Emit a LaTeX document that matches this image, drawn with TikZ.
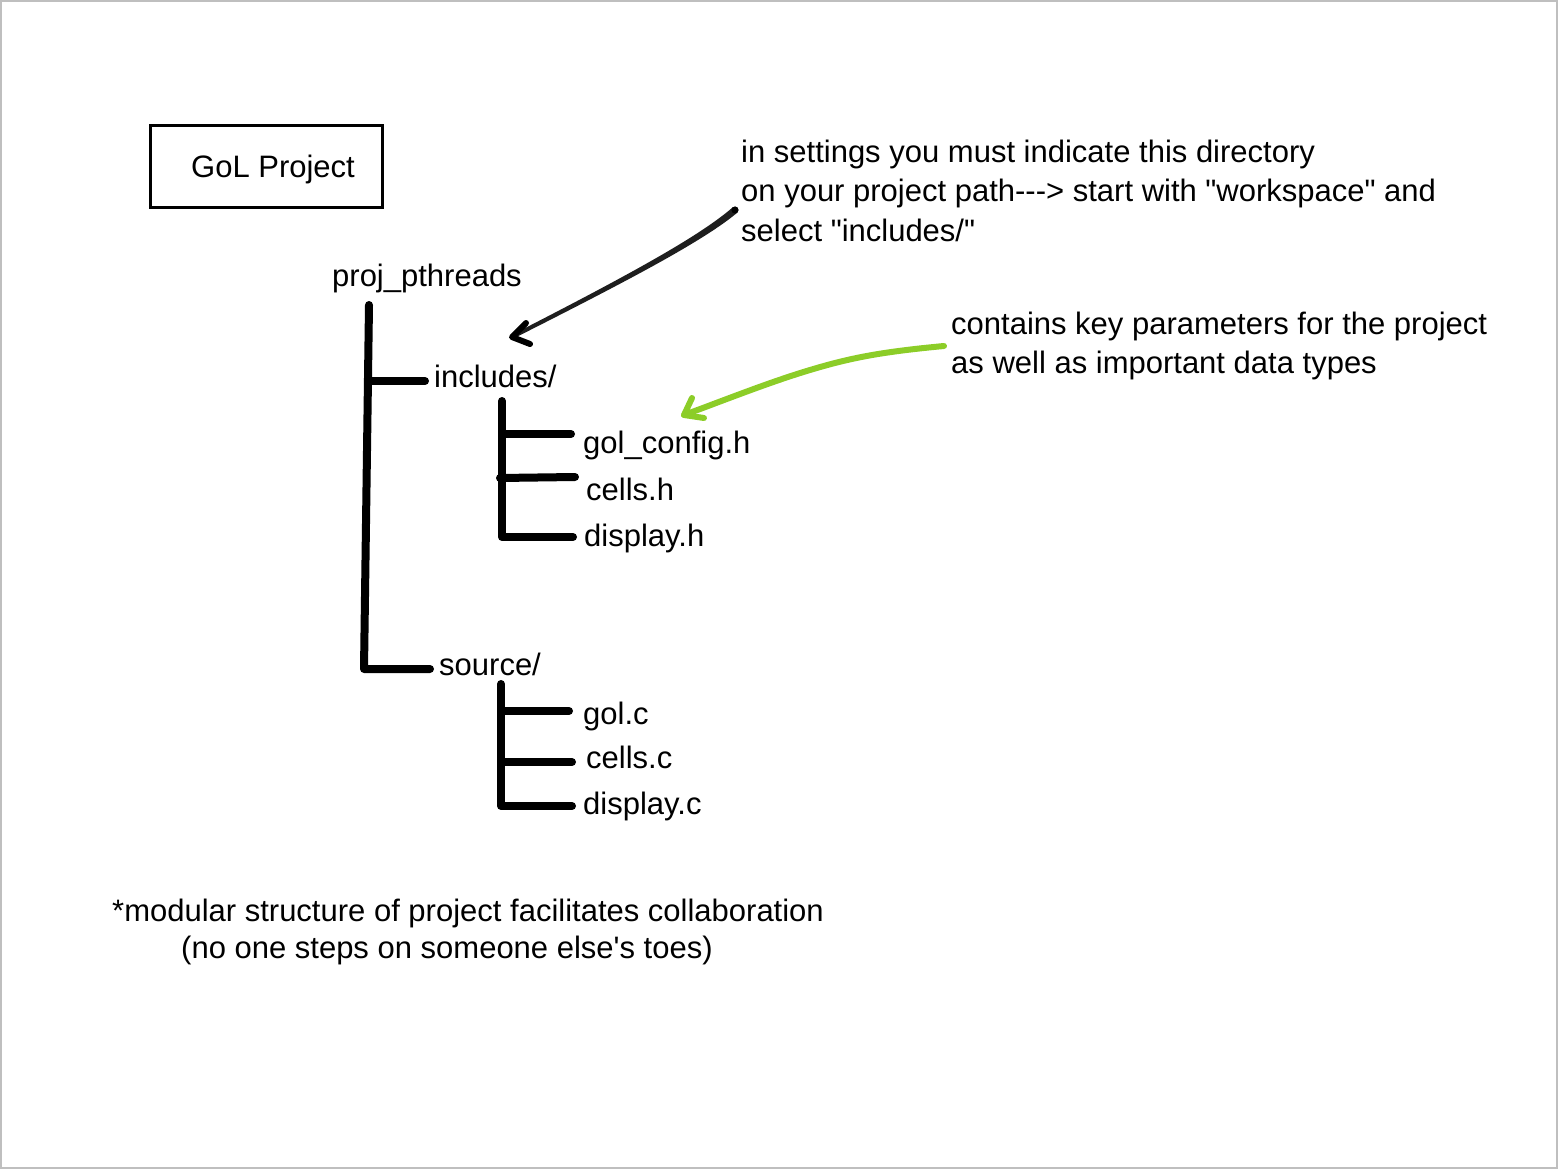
\documentclass[tikz,border=0pt]{standalone}
\usepackage{fontspec}
\setmainfont{Liberation Sans}
\newfontfamily\plainfont{Liberation Sans}
\definecolor{leaf}{RGB}{140,205,40}
\definecolor{ink}{RGB}{30,30,30}
\begin{document}
\begin{tikzpicture}[x=1pt,y=-1pt,
  txt/.style={anchor=base west, inner sep=0pt, font=\plainfont\fontsize{31}{39}\selectfont},
  tree/.style={line width=8pt, line cap=round, line join=round},
  grn/.style={line width=6pt, line cap=round, line join=round, leaf}]
\useasboundingbox (0,0) rectangle (1558,1169);
\draw[black!25, line width=2pt] (1,1) rectangle (1557,1168);

% title box
\node[draw, line width=3pt, minimum width=232pt, minimum height=82pt, inner sep=0pt,
      text height=22pt, text depth=0pt,
      font=\plainfont\fontsize{31}{39}\selectfont] (title) at (266,167) {\hspace*{14pt}GoL Project};

% notes
\node[txt] (n1a) at (741,163) {in settings you must indicate this directory};
\node[txt] (n1b) at (741,202) {on your project path---> start with "workspace" and};
\node[txt] (n1c) at (741,241) {select "includes/"};
\node[txt] (n2a) at (951,334) {contains key parameters for the project};
\node[txt] (n2b) at (951,373) {as well as important data types};
\node[txt] (f1) at (112,921) {*modular structure of project facilitates collaboration};
\node[txt] (f2) at (181,958) {(no one steps on someone else's toes)};

% tree labels
\node[txt] (root) at (332,286) {proj\_pthreads};
\node[txt] (inc) at (434,387) {includes/};
\node[txt] (gcfg) at (583,453) {gol\_config.h};
\node[txt] (cellsh) at (586,500) {cells.h};
\node[txt] (disph) at (584,546) {display.h};
\node[txt] (src) at (439,675) {source/};
\node[txt] (golc) at (583,724) {gol.c};
\node[txt] (cellsc) at (586,768) {cells.c};
\node[txt] (dispc) at (583,814) {display.c};

% tree lines
\coordinate (rt) at (369,305);
\coordinate (rb) at (364,669);
\draw[tree] (rt) -- (rb) -- (430,669);
\draw[tree] (368,381) -- (425,381);
\draw[tree] (502,401) -- (502,537) -- (573,537);
\draw[tree] (502,434) -- (571,434);
\draw[tree] (500,478) -- (575,477);
\draw[tree] (501,684) -- (501,806) -- (572,806);
\draw[tree] (501,711) -- (569,711);
\draw[tree] (501,762) -- (572,762);

% black arrow (tapered stroke as filled shape)
\coordinate (ba0) at (735,210);
\coordinate (bat) at (512,337);
\fill[ink] (737.28,212.66) .. controls (701.95,242.28) and (621.04,284.05) .. (512.91,338.78)
  -- (511.09,335.22) .. controls (618.96,279.95) and (698.05,237.72) .. (732.72,207.34) -- cycle;
\fill[black] (ba0) circle (3.6pt);
\draw[line width=6pt, line cap=round, line join=round, black] (526,323) -- (bat) -- (530,344);

% green arrow
\coordinate (ga0) at (944,346);
\coordinate (gat) at (684,415);
\draw[grn] (ga0) .. controls (880,352) and (850,358) .. (810,370)
  .. controls (770,382) and (730,398) .. (gat);
\draw[grn] (692,398) -- (gat) -- (704,418);
\end{tikzpicture}
\end{document}
